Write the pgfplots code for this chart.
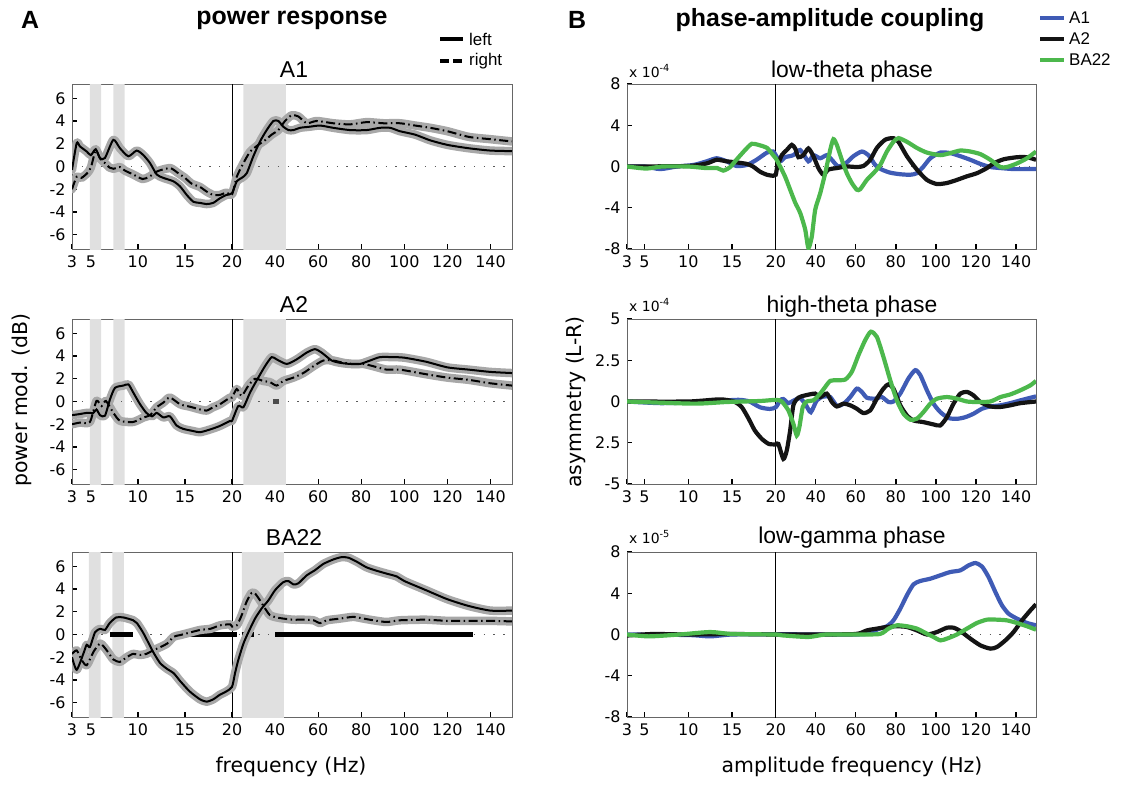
\documentclass[border=0pt]{standalone}
\usepackage{fontspec}
\setmainfont{Liberation Sans}
\newfontfamily\dv{DejaVu Sans}
\usepackage{pgfplots}
\usepackage{pgfplotstable}
\pgfplotsset{compat=1.18}

\definecolor{band}{HTML}{E0E0E0}
\definecolor{halo}{HTML}{A8A8A8}
\definecolor{cAone}{HTML}{3F5BB5}
\definecolor{cAtwo}{HTML}{141414}
\definecolor{cBA}{HTML}{4CB84C}

\pgfplotsset{
  splitfreq/.style={
    scale only axis, width=#1, height=165bp, anchor=north west,
    x coord trafo/.code={\pgfmathparse{ifthenelse(##1<=20,##1,20+(##1-20)*0.2288)}},
    xmin=3, xmax=150,
    xtick={3,5,10,15,20,40,60,80,100,120,140},
    xticklabels={3,5,10,15,20,40,60,80,100,120,140},
    tick align=inside, xtick pos=left, ytick pos=left,
    major tick length=5bp,
    tick style={black, line width=1.3bp},
    axis line style={black!60, line width=0.9bp},
    ticklabel style={font=\dv\fontsize{16}{18}\selectfont},
    xticklabel style={yshift=-3bp},
    yticklabel style={xshift=-3bp},
  },
  pw/.style={ymin=-7.25, ymax=7.25, ytick={-6,-4,-2,0,2,4,6},
    yticklabels={-6,-4,-2,0,2,4,6}},
}

\newcommand{\zeroline}{\addplot[black!65, line width=1.3bp, dash pattern=on 1.3bp off 8.5bp] coordinates {(3,0)(150,0)};}
\newcommand{\divider}{\addplot[black, line width=0.9bp] coordinates {(20,-10)(20,10)};}
\newcommand{\sband}[2]{\addplot[fill=band, draw=none] coordinates {(#1,-10)(#2,-10)(#2,10)(#1,10)(#1,-10)};}
\newcommand{\haloline}[1]{\addplot[halo, line width=8.5bp, line join=round, line cap=round, smooth, tension=0.4] table {#1};}
\newcommand{\solidline}[1]{\addplot[black, line width=2bp, smooth, tension=0.4] table {#1};}
\newcommand{\dashline}[1]{\addplot[black, line width=2bp, smooth, tension=0.4, dash pattern=on 9bp off 3.5bp on 1.5bp off 3.5bp] table {#1};}

% power response, left (L) and right (R) hemisphere
\pgfplotstableread{
f v
3 -0.3
3.5 2.05
3.85 1.76
4.56 1.32
5.0 1.0
5.52 1.52
5.98 0.73
6.5 0.75
7.39 2.34
8.1 1.6
8.99 0.9
9.87 1.4
10.58 1.0
11.29 0.3
12.0 -0.7
12.7 -1.0
13.77 -1.3
14.48 -1.75
15.19 -2.5
15.9 -3.1
16.6 -3.2
17.3 -3.3
18.0 -3.2
18.7 -2.8
19.4 -2.5
20 -2.35
22.2 -1.3
24.5 -1.0
26.8 -0.6
29.9 0.9
33 2.2
36.1 3.2
39.2 4.0
41.5 4.0
43.8 3.5
46.2 3.2
48.5 3.2
51.6 3.4
56.2 3.5
60.9 3.6
67 3.4
74.8 3.2
82.5 3.2
88.7 3.4
93.4 3.4
98 3.1
105 2.8
112 2.3
120 1.9
130 1.6
140 1.4
150 1.35
}\AoneL
\pgfplotstableread{
f v
3 -2.0
3.5 -0.9
4.0 -1.0
4.6 -0.6
5.0 -0.1
5.52 1.4
5.98 0.7
6.5 0.3
7.0 -0.1
7.4 -0.2
8.1 -0.05
8.6 -0.35
9.5 -0.7
10.5 -1.1
11.2 -0.9
12.0 -0.45
12.7 -0.25
13.5 -0.15
14.3 -0.6
15.0 -1.0
15.7 -1.5
16.6 -1.8
17.3 -2.2
18.0 -2.5
18.7 -2.5
19.4 -2.3
20 -2.45
22.2 -0.9
25.3 0.3
28.4 1.3
32.2 1.9
35.3 2.3
38.4 2.8
41.5 3.2
44.6 4.0
47.7 4.5
50.8 4.4
54.7 3.8
59.3 4.0
67 3.8
74.8 3.7
82.5 3.9
90.3 3.8
98 3.8
105 3.6
112 3.4
120 3.1
130 2.6
140 2.4
150 2.2
}\AoneR
\pgfplotstableread{
f v
3 -1.2
3.85 -1.1
4.56 -1.0
5.27 -1.0
5.6 -0.7
5.98 -1.2
6.5 -1.25
7.04 0.2
7.57 1.2
8.45 1.4
9.0 1.5
9.5 0.8
10.2 -0.2
10.9 -1.0
11.5 -1.3
12.0 -1.0
12.7 -1.4
13.4 -1.3
14.1 -2.1
14.8 -2.4
15.9 -2.6
16.6 -2.7
17.7 -2.45
18.7 -2.15
19.8 -1.7
20 -1.7
22.9 -0.4
25.3 -0.5
28.4 0.8
32.2 2.1
35.3 3.1
38.4 3.9
40.7 3.7
45.4 3.3
50 3.7
54.7 4.3
58.5 4.6
61.6 4.3
66.3 3.6
70.2 3.4
74.8 3.3
79.4 3.3
84.1 3.6
88.7 3.9
94.9 3.9
100 3.85
110 3.5
120 3.0
130 2.8
140 2.6
150 2.5
}\AtwoL
\pgfplotstableread{
f v
3 -2.0
3.85 -1.85
4.9 -1.8
5.6 0.05
6.15 -0.4
6.6 0.05
7.4 -1.0
8.1 -1.7
9.5 -1.8
10.6 -1.4
11.3 -1.2
12.0 -0.5
12.7 -0.1
13.4 0.35
14.5 -0.25
15.5 -0.45
16.6 -0.7
17.3 -0.8
18.0 -0.5
18.7 -0.25
19.8 0.35
20 0.35
22.2 1.1
24.5 0.5
27.6 1.4
30.7 2.0
34.6 1.8
37.6 1.7
40.7 1.4
43.8 1.8
48.5 2.1
53.1 2.5
57.8 3.1
62.4 3.6
67 3.6
71.7 3.4
76.3 3.3
81 3.3
85.6 3.1
91.8 2.8
98 2.8
110 2.4
120 2.1
130 1.9
140 1.6
150 1.4
}\AtwoR
\pgfplotstableread{
f v
3 -2.0
3.5 -3.1
4.2 -1.7
4.56 -0.9
4.9 -1.1
5.45 0.2
6.0 0.5
6.5 0.4
7.0 1.0
7.7 1.5
8.45 1.5
9.5 1.25
9.9 1.0
10.6 0.1
11.6 -1.5
12.35 -2.5
13.06 -3.0
13.8 -3.4
14.5 -4.1
15.5 -5.0
16.6 -5.7
17.3 -5.9
18.0 -5.7
18.7 -5.3
19.4 -5.0
20 -4.6
21.4 -3.4
22.9 -2.25
25.3 -0.8
27.6 0.2
30.7 1.4
33.8 2.3
36.9 3.0
40 3.9
43.8 4.6
46.2 4.7
48.5 4.4
50.8 4.5
54.7 5.2
58.5 5.65
62.4 6.2
67.1 6.6
70.9 6.8
74 6.75
77.9 6.4
82.5 5.9
87.2 5.6
91.8 5.35
96.5 5.1
100 4.7
110 3.9
120 3.1
130 2.5
140 2.1
150 2.1
}\BAL
\pgfplotstableread{
f v
3 -1.7
3.5 -1.4
4.0 -2.2
4.56 -2.7
5.3 -1.5
6.0 -0.8
6.7 -1.4
7.4 -2.2
8.1 -2.4
8.8 -2.0
9.5 -1.7
10.2 -1.8
10.9 -1.7
11.6 -1.4
12.4 -1.1
13.1 -0.8
13.8 -0.2
14.5 -0.05
15.2 0.1
16.6 0.4
17.7 0.5
18.7 0.8
19.8 0.9
20 0.7
22.2 0.8
24.5 1.7
26.8 2.9
29.1 3.65
30.7 3.6
33 3.0
35.3 2.3
37.6 1.7
40.7 1.5
43.8 1.4
48.5 1.3
53.1 1.3
57.8 1.25
60.9 1.0
64 1.25
70.2 1.4
76.3 1.55
81 1.4
85.6 1.25
91.8 1.1
98 1.25
110 1.3
120 1.2
130 1.2
140 1.2
150 1.15
}\BAR

\begin{document}
\begin{tikzpicture}
\useasboundingbox (0,0) rectangle (1122bp,-785bp);

% ---------- A: power response ----------
\begin{axis}[splitfreq=440bp, pw, at={(72bp,-84bp)}]
\sband{4.9}{6.1}\sband{7.4}{8.6}\sband{25.3}{45}
\divider\zeroline
\haloline{\AoneR}\haloline{\AoneL}
\dashline{\AoneR}\solidline{\AoneL}
\end{axis}

\begin{axis}[splitfreq=440bp, pw, at={(72bp,-319bp)}]
\sband{4.9}{6.1}\sband{7.4}{8.6}\sband{25.3}{45}
\divider\zeroline
\addplot[black!70, line width=5bp] coordinates {(39,0)(42,0)};
\haloline{\AtwoR}\haloline{\AtwoL}
\dashline{\AtwoR}\solidline{\AtwoL}
\end{axis}

\begin{axis}[splitfreq=440bp, pw, at={(72bp,-552bp)}]
\sband{4.8}{6.05}\sband{7.3}{8.5}\sband{24.6}{44.1}
\divider\zeroline
\addplot[black, line width=5bp] coordinates {(7.0,0)(9.5,0)};
\addplot[black, line width=5bp] coordinates {(14.1,0)(22.2,0)};
\addplot[black, line width=5bp] coordinates {(24.5,0)(30.2,0)};
\addplot[black, line width=5bp] coordinates {(40,0)(132,0)};
\haloline{\BAR}\haloline{\BAL}
\dashline{\BAR}\solidline{\BAL}
\end{axis}

% ---------- B: phase-amplitude coupling ----------
\begin{axis}[splitfreq=409bp, at={(627bp,-84bp)}, ymin=-8, ymax=8,
  ytick={-8,-4,0,4,8}, yticklabels={-8,-4,0,4,8}]
\divider\zeroline
\addplot[cAone, line width=4.2bp, smooth, tension=0.4] coordinates {
(3,0)(5,0)(6.8,-0.25)(8.7,0)(10.6,0.15)(12.1,0.5)(13.25,0.8)(14.4,0.5)(15.5,0.05)(16.7,0.15)
(17.8,0.65)(19,1.35)(19.7,1.45)(20,1.1)(22.2,0.5)(24.7,0.9)(28.8,1.1)(32.2,1.6)(36.3,0.5)(38.8,1.1)
(42.2,0.8)(45.5,1.1)(48,0.65)(51.3,0)(55.5,0.4)(58.8,1.0)(63,1.45)(66.3,1.1)(69.7,0.15)(73,-0.3)
(77.2,-0.6)(82.2,-0.75)(87.2,-0.8)(90.5,-0.65)(93.8,0)(97.2,0.8)(102.2,1.35)(107.2,1.3)(112.2,1.0)
(117.2,0.65)(122.2,0.25)(127.2,-0.05)(132.2,-0.15)(138.8,-0.25)(145.5,-0.25)(150,-0.25)};
\addplot[cAtwo, line width=4.2bp, smooth, tension=0.4] coordinates {
(3,0)(10,0.05)(12.1,0.3)(13.25,0.65)(14.4,0.5)(15.5,0.4)(16.7,0.25)(17.4,0)(18.2,-0.5)(19,-0.8)
(19.7,-0.9)(20,-0.8)(20.8,0)(23,1.1)(25.5,1.6)(28,2.1)(29.7,1.75)(31.3,0.9)(33.8,1.1)(36.3,1.75)
(38.8,1.0)(41.3,-0.15)(43.8,-0.8)(46.3,-0.3)(50.5,-0.15)(55.5,0)(60.5,-0.05)(63.8,0.05)(67.2,0.65)
(70.5,1.8)(74.7,2.6)(78.8,2.75)(81.3,2.4)(85.5,1.0)(90.5,-0.3)(95.5,-1.3)(100.5,-1.7)(105.5,-1.6)
(110.5,-1.3)(115.5,-0.95)(120.5,-0.65)(125.5,-0.15)(128.8,0.3)(133.8,0.7)(140.5,0.9)(145.5,0.9)(150,0.65)};
\addplot[cBA, line width=4.2bp, smooth, tension=0.4] coordinates {
(3,0)(5.2,-0.2)(7,0)(10,0)(12,-0.15)(13.3,-0.15)(14,-0.4)(14.8,-0.05)(15.5,0.65)(16.5,1.6)
(17.25,2.2)(18,2.1)(19,1.8)(19.7,1.1)(20,0.8)(22.2,0)(24.7,-1.0)(27.2,-2.25)(29.7,-3.5)(32.2,-4.5)
(34.7,-6.1)(36.3,-7.9)(38,-6.8)(39.7,-4.2)(42.2,-2.6)(44.7,-0.65)(47.2,1.6)(48.8,2.65)(50.5,2.1)
(53,0.65)(55.5,-0.65)(58,-1.6)(60.5,-2.25)(62.2,-2.2)(65.5,-1.3)(68.8,-0.65)(72.2,0.15)(75.5,1.45)
(78.8,2.4)(81.3,2.75)(85.5,2.4)(90.5,1.8)(95.5,1.35)(102.2,1.1)(107.2,1.3)(112.2,1.55)(117.2,1.45)
(122.2,1.2)(127.2,0.65)(132.2,-0.05)(135.5,-0.05)(140.5,0.3)(145.5,0.8)(150,1.45)};
\end{axis}

\begin{axis}[splitfreq=409bp, at={(627bp,-319bp)}, ymin=-5, ymax=5,
  ytick={-5,-2.5,0,2.5,5}, yticklabels={-5,2.5,0,2.5,5}]
\divider\zeroline
\addplot[cAone, line width=4.2bp, smooth, tension=0.4] coordinates {
(3,0)(6.8,-0.1)(10.6,-0.05)(14.4,0.07)(15.9,0.1)(17,0)(18.2,-0.35)(19.3,-0.45)(20,-0.35)(22.2,0.07)
(23.8,0.15)(26.3,-0.1)(28.8,0.05)(32.2,0.2)(35,-0.2)(37.5,-0.65)(40.5,0.07)(43.8,0.3)(47.2,0.27)
(50.5,-0.25)(53.8,-0.15)(57.2,0.27)(60.5,0.78)(63,0.58)(65.5,0.23)(69.7,0.17)(73,0.27)(76.3,-0.03)
(78.8,0)(82.2,0.48)(86.3,1.4)(89.7,1.9)(92.2,1.6)(95.5,0.68)(98.8,-0.13)(102.2,-0.64)(106.3,-1.0)
(110.5,-1.05)(114.7,-0.95)(118.8,-0.74)(123,-0.44)(127.2,-0.3)(132.2,-0.23)(137.2,-0.1)(142.2,0.07)(150,0.31)};
\addplot[cAtwo, line width=4.2bp, smooth, tension=0.4] coordinates {
(3,0)(10,0)(13.6,0.13)(15.2,0)(16.1,-0.33)(16.9,-1.04)(17.6,-1.75)(18.4,-2.26)(19.2,-2.57)(20,-2.6)
(21.3,-2.57)(23.8,-3.48)(25.5,-2.97)(27.2,-1.75)(28.8,-0.23)(31.3,0.23)(34.7,0.37)(39.7,0.48)
(42.2,0.27)(45.5,0.48)(48,-0.03)(50.5,-0.3)(53.8,-0.13)(57.2,-0.23)(60.5,-0.44)(63.8,-0.7)(67.2,-0.54)
(70.5,0.17)(73.8,0.78)(76.3,1.04)(78.8,0.78)(82.2,-0.23)(85.5,-0.84)(88.8,-1.15)(93.8,-1.25)
(98.8,-1.39)(102.2,-1.45)(105.5,-0.95)(108.8,-0.13)(112.2,0.48)(115.5,0.58)(118.8,0.37)(122.2,-0.03)
(127.2,-0.3)(132.2,-0.33)(137.2,-0.23)(142.2,-0.1)(150,0)};
\addplot[cBA, line width=4.2bp, smooth, tension=0.4] coordinates {
(3,0)(10.6,-0.13)(14.4,-0.03)(18.2,0.03)(20,0.1)(23,0)(26.3,-0.54)(28.8,-1.35)(30.5,-2.06)(31.8,-1.55)
(33.5,-0.33)(35.5,0)(38.8,0.07)(42.2,0.48)(44.7,0.88)(47.2,1.25)(50.5,1.29)(54.7,1.33)(58,1.8)
(61.3,2.8)(64.7,3.72)(67.5,4.23)(70.5,3.92)(73.8,2.7)(77.2,1.29)(80.5,0.07)(83.8,-0.74)(87.2,-1.1)
(90.5,-1.04)(93.8,-0.64)(97.2,-0.13)(100.5,0.17)(105.5,0.27)(110.5,0.17)(115.5,0)(120.5,-0.03)
(127.2,0)(132.2,0.27)(137.2,0.43)(142.2,0.68)(147.2,0.98)(150,1.25)};
\end{axis}

\begin{axis}[splitfreq=409bp, at={(627bp,-552bp)}, ymin=-8, ymax=8,
  ytick={-8,-4,0,4,8}, yticklabels={-8,-4,0,4,8}]
\divider\zeroline
\addplot[cAone, line width=4.2bp, smooth, tension=0.4] coordinates {
(3,0)(10,-0.05)(12.5,-0.18)(15,0)(20,0.03)(40,0)(60,0)(68,0.1)(70.5,0.47)(75.5,0.8)(78.8,1.37)
(82.2,2.5)(85.5,3.8)(88.8,4.86)(92.2,5.19)(97.2,5.41)(102.2,5.74)(107.2,6.06)(112.2,6.22)(116.3,6.7)
(119.7,6.93)(123,6.6)(126.3,5.57)(129.7,4.12)(133,2.83)(136.3,2.02)(140.5,1.54)(145.5,1.12)(150,0.89)};
\addplot[cAtwo, line width=4.2bp, smooth, tension=0.4] coordinates {
(3,-0.1)(6,0.05)(10,0)(15,0.05)(20,0)(40,0)(60,0.05)(65.5,0.4)(70.5,0.57)(75.5,0.73)(80.5,0.8)
(85.5,0.73)(90.5,0.4)(95.5,0)(100.5,0.24)(105.5,0.66)(108.8,0.66)(112.2,0.34)(117.2,-0.4)(122.2,-1.05)
(127.2,-1.37)(130.5,-1.21)(134.7,-0.57)(138.8,0.24)(143,1.37)(147.2,2.34)(150,2.93)};
\addplot[cBA, line width=4.2bp, smooth, tension=0.4] coordinates {
(3,0)(5.5,-0.18)(9,0)(12.5,0.24)(15,0.05)(20,0)(23,-0.08)(36.3,-0.24)(45,0)(60,0)(72,0.05)(76.3,0.57)
(80.5,0.89)(85.5,0.8)(90.5,0.57)(95.5,0.08)(98.8,-0.24)(102.2,-0.57)(105.5,-0.4)(110.5,0)(115.5,0.57)
(120.5,1.12)(125.5,1.44)(130.5,1.44)(135.5,1.37)(140.5,1.12)(145.5,0.8)(150,0.47)};
\end{axis}

% ---------- texts ----------
\begin{scope}[every node/.style={inner sep=0pt}]
\node[font=\bfseries\fontsize{25}{29}\selectfont] at (30bp,-20bp) {A};
\node[font=\bfseries\fontsize{25}{29}\selectfont] at (292bp,-20bp) {power response};
\node[font=\bfseries\fontsize{25}{29}\selectfont] at (577bp,-20bp) {B};
\node[font=\bfseries\fontsize{25}{29}\selectfont] at (830bp,-20bp) {phase-amplitude coupling};

\draw[black, line width=4bp] (440bp,-39bp) -- (463bp,-39bp);
\node[anchor=west, font=\fontsize{17}{20}\selectfont] at (469bp,-39bp) {left};
\draw[black, line width=4bp, dash pattern=on 9bp off 4bp] (440bp,-61bp) -- (464bp,-61bp);
\node[anchor=west, font=\fontsize{17}{20}\selectfont] at (469bp,-61bp) {right};

\draw[cAone, line width=4bp] (1040bp,-18bp) -- (1064bp,-18bp);
\node[anchor=west, font=\fontsize{17}{20}\selectfont] at (1069bp,-18bp) {A1};
\draw[cAtwo, line width=4bp] (1040bp,-39bp) -- (1064bp,-39bp);
\node[anchor=west, font=\fontsize{17}{20}\selectfont] at (1069bp,-39bp) {A2};
\draw[cBA, line width=4bp] (1040bp,-60bp) -- (1064bp,-60bp);
\node[anchor=west, font=\fontsize{17}{20}\selectfont] at (1069bp,-60bp) {BA22};

\node[anchor=base, font=\fontsize{23}{27}\selectfont] at (294bp,-77bp) {A1};
\node[anchor=base, font=\fontsize{23}{27}\selectfont] at (294bp,-312bp) {A2};
\node[anchor=base, font=\fontsize{23}{27}\selectfont] at (294bp,-545bp) {BA22};
\node[anchor=base, font=\fontsize{23}{27}\selectfont] at (852bp,-77bp) {low-theta phase};
\node[anchor=base, font=\fontsize{23}{27}\selectfont] at (852bp,-312bp) {high-theta phase};
\node[anchor=base, font=\fontsize{23}{27}\selectfont] at (852bp,-543bp) {low-gamma phase};

\node[anchor=base west, font=\dv\fontsize{14}{16}\selectfont] at (629bp,-77bp) {x 10\textsuperscript{-4}};
\node[anchor=base west, font=\dv\fontsize{14}{16}\selectfont] at (629bp,-311bp) {x 10\textsuperscript{-4}};
\node[anchor=base west, font=\dv\fontsize{14}{16}\selectfont] at (629bp,-543bp) {x 10\textsuperscript{-5}};

\node[rotate=90, font=\dv\fontsize{20.5}{24}\selectfont] at (22bp,-400bp) {power mod. (dB)};
\node[rotate=90, font=\dv\fontsize{20.5}{24}\selectfont] at (576bp,-402bp) {asymmetry (L-R)};
\node[font=\dv\fontsize{20.5}{24}\selectfont] at (291bp,-767bp) {frequency (Hz)};
\node[font=\dv\fontsize{20.5}{24}\selectfont] at (852bp,-767bp) {amplitude frequency (Hz)};
\end{scope}
\end{tikzpicture}
\end{document}
